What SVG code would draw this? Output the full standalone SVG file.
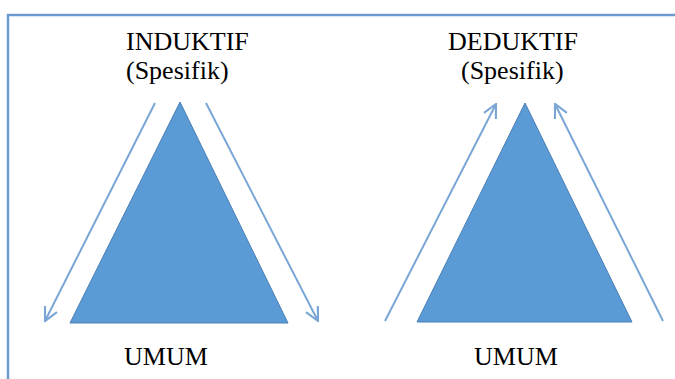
<svg xmlns="http://www.w3.org/2000/svg" width="675" height="379" viewBox="0 0 675 379">
<style>
.lbl{font-family:"Liberation Serif","Times New Roman",serif;font-size:26px;fill:#000}
.tri{fill:#5b9bd5;stroke:#4a7fb5;stroke-width:1}
.arr{stroke:#7aa6d6;stroke-width:2;fill:none}
</style>
<defs>
<marker id="head" viewBox="0 0 12 12" refX="11" refY="6" markerWidth="16" markerHeight="16" markerUnits="userSpaceOnUse" orient="auto">
<path d="M1,1 L11,6 L1,11" fill="none" stroke="#7aa6d6" stroke-width="1.6"/>
</marker>
</defs>
<rect x="8" y="15" width="700" height="400" fill="none" stroke="#6b9bd1" stroke-width="2.5"/>
<g id="induktif">
<polygon class="tri" points="180,102 70,323 288,323"/>
<text class="lbl" x="126" y="50">INDUKTIF</text>
<text class="lbl" x="126" y="79">(Spesifik)</text>
<text class="lbl" x="124" y="365">UMUM</text>
</g>
<g id="deduktif">
<polygon class="tri" points="525,103 417,322 632,322"/>
<text class="lbl" x="448" y="50">DEDUKTIF</text>
<text class="lbl" x="461" y="79">(Spesifik)</text>
<text class="lbl" x="474" y="365">UMUM</text>
</g>
<g id="connectors">
<line class="arr" x1="155" y1="103" x2="45" y2="321" marker-end="url(#head)"/>
<line class="arr" x1="206" y1="103" x2="318" y2="321" marker-end="url(#head)"/>
<line class="arr" x1="385" y1="321" x2="496" y2="104" marker-end="url(#head)"/>
<line class="arr" x1="663" y1="321" x2="555" y2="104" marker-end="url(#head)"/>
</g>
</svg>
